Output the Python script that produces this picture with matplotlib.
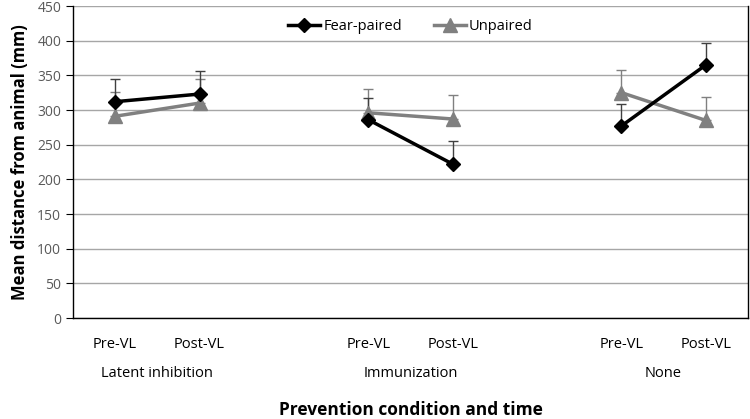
import numpy as np
import matplotlib
matplotlib.use("Agg")
import matplotlib.pyplot as plt
from matplotlib.transforms import blended_transform_factory

plt.rcParams["font.family"] = ["Open Sans", "DejaVu Sans"]

groups = ["Latent inhibition", "Immunization", "None"]
times = ["Pre-VL", "Post-VL"]
positions = [[0, 1], [3, 4], [6, 7]]

fear_mean = [[312, 323], [286, 222], [277, 365]]
fear_err = [[32, 33], [31, 34], [31, 31]]
unp_mean = [[291, 310], [296, 287], [325, 285]]
unp_err = [[35, 34], [35, 34], [33, 34]]

FEAR_C = "#000000"
UNP_C = "#808080"

fig = plt.figure(figsize=(7.5, 4.19), dpi=100)
ax = fig.add_axes([73 / 750, 1 - 318 / 419, 675 / 750, 312 / 419])

for i, pos in enumerate(positions):
    ax.errorbar(pos, unp_mean[i], yerr=[[0, 0], unp_err[i]], fmt="none",
                ecolor=UNP_C, elinewidth=1, capsize=3.5, capthick=1, zorder=2)
    ax.errorbar(pos, fear_mean[i], yerr=[[0, 0], fear_err[i]], fmt="none",
                ecolor="#404040", elinewidth=1, capsize=3.5, capthick=1, zorder=2)
    ax.plot(pos, unp_mean[i], color=UNP_C, lw=2.5, marker="^", ms=10,
            label="Unpaired" if i == 0 else None, zorder=3)
    ax.plot(pos, fear_mean[i], color=FEAR_C, lw=2.5, marker="D", ms=7,
            label="Fear-paired" if i == 0 else None, zorder=4)

ax.set_xlim(-0.5, 7.5)
ax.set_ylim(0, 450)
ax.set_yticks(np.arange(0, 451, 50))
ax.yaxis.grid(True, color="#a6a6a6", lw=1)
ax.set_axisbelow(True)
ax.tick_params(axis="y", labelsize=10, labelcolor="#595959", color="black",
               length=5, direction="out")

ticks = [p for pos in positions for p in pos]
ax.set_xticks(ticks)
ax.set_xticklabels(times * 3, fontsize=10.5)
ax.tick_params(axis="x", length=0, pad=14)

for s in ["left", "bottom", "right"]:
    ax.spines[s].set_color("black")
    ax.spines[s].set_linewidth(1)
ax.spines["top"].set_visible(False)

trans = blended_transform_factory(ax.transData, ax.transAxes)
for g, pos in zip(groups, positions):
    ax.text(np.mean(pos), -0.177, g, transform=trans, ha="center", va="center",
            fontsize=10.5)

ax.set_ylabel("Mean distance from animal (mm)", fontsize=12, fontweight="bold", labelpad=6)
fig.text((73 + 748) / 2 / 750, 1 - 410 / 419, "Prevention condition and time",
         ha="center", va="center", fontsize=12.5, fontweight="bold")

handles, labels = ax.get_legend_handles_labels()
order = [labels.index("Fear-paired"), labels.index("Unpaired")]
ax.legend([handles[k] for k in order], [labels[k] for k in order],
          loc="upper center", bbox_to_anchor=(0.5, 1.0), ncol=2, frameon=False,
          fontsize=10.5, handlelength=2.2, handletextpad=0.2, columnspacing=2.2,
          borderaxespad=0.5)

fig.savefig("out.png", dpi=100)
